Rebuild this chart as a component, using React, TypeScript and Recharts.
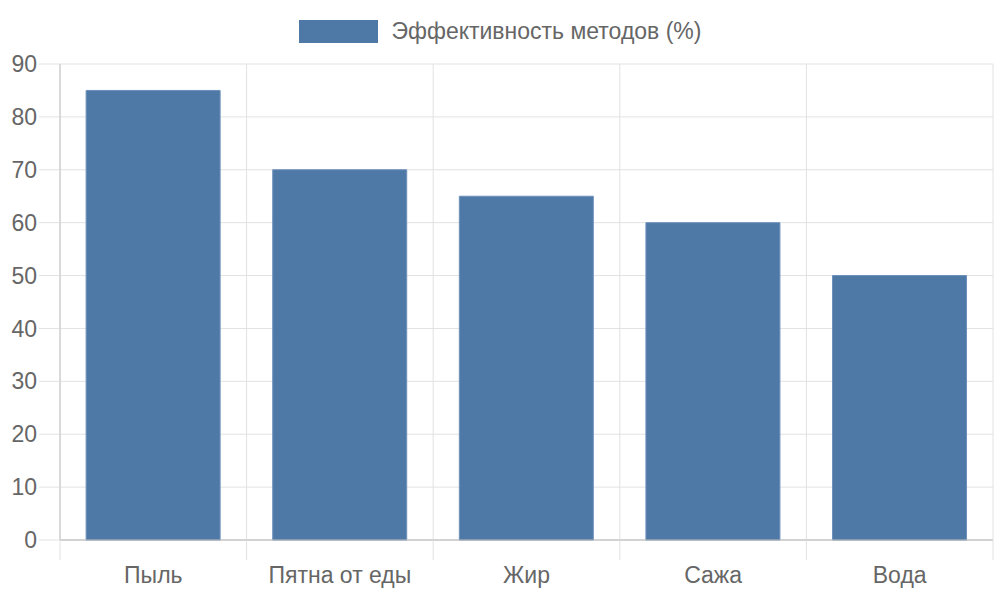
import { BarChart, Bar, XAxis, YAxis, CartesianGrid } from "recharts";

const categories = ["Пыль", "Пятна от еды", "Жир", "Сажа", "Вода"];
const efficiency = [85, 70, 65, 60, 50];
const yTicks = [0, 10, 20, 30, 40, 50, 60, 70, 80, 90];
const seriesName = "Эффективность методов (%)";

const data = categories.map((name, i) => ({ name, value: efficiency[i] }));

const FONT = "'Liberation Sans', Arial, sans-serif";
const FONT_SIZE = 23;
const GRID = "#e2e2e2";
const AXIS = "#b4b4b4";
const TEXT = "#666";
const BAR = "#4e79a7";

// label in the middle of the band, tick marks at band edges (Chart.js look)
const CategoryTick = (props: any) => {
  const { x, y, payload, width, visibleTicksCount, index } = props;
  const band = width / visibleTicksCount;
  const left = x - band / 2;
  const right = x + band / 2;
  return (
    <g>
      <line x1={left} x2={left} y1={y} y2={y + 20} stroke={GRID} />
      {index === visibleTicksCount - 1 && <line x1={right} x2={right} y1={y} y2={y + 20} stroke={GRID} />}
      <text x={x} y={y + 43} textAnchor="middle" fill={TEXT} fontSize={FONT_SIZE} fontFamily={FONT}>
        {payload.value}
      </text>
    </g>
  );
};

export default function App() {
  return (
    <div style={{ position: "absolute", left: 0, top: 0, width: 1000, height: 600, background: "#fff" }}>
      <div
        style={{
          position: "absolute",
          top: 20,
          left: 0,
          width: 1000,
          display: "flex",
          justifyContent: "center",
          alignItems: "center",
          fontFamily: FONT,
          fontSize: FONT_SIZE,
          color: TEXT,
        }}
      >
        <span style={{ display: "inline-block", width: 79, height: 23, background: BAR, marginRight: 14 }} />
        <span style={{ lineHeight: "23px" }}>{seriesName}</span>
      </div>
      <BarChart width={1000} height={600} data={data} margin={{ top: 64, right: 7, bottom: 0, left: 0 }} barCategoryGap="14%">
        <CartesianGrid
          stroke={GRID}
          verticalCoordinatesGenerator={({ offset }: any) =>
            categories.map((_, i) => offset.left + ((i + 1) * offset.width) / categories.length)
          }
        />
        <XAxis
          dataKey="name"
          height={60}
          axisLine={{ stroke: AXIS }}
          tickLine={false}
          tickSize={0}
          tickMargin={0}
          interval={0}
          tick={<CategoryTick />}
        />
        <YAxis
          width={60}
          domain={[0, 90]}
          ticks={yTicks}
          interval={0}
          axisLine={{ stroke: AXIS }}
          tickLine={{ stroke: GRID }}
          tickSize={21}
          tickMargin={2}
          tick={{ fill: TEXT, fontSize: FONT_SIZE, fontFamily: FONT }}
        />
        <Bar dataKey="value" name={seriesName} fill={BAR} stroke="#6d90bb" strokeWidth={1} isAnimationActive={false} />
      </BarChart>
    </div>
  );
}
